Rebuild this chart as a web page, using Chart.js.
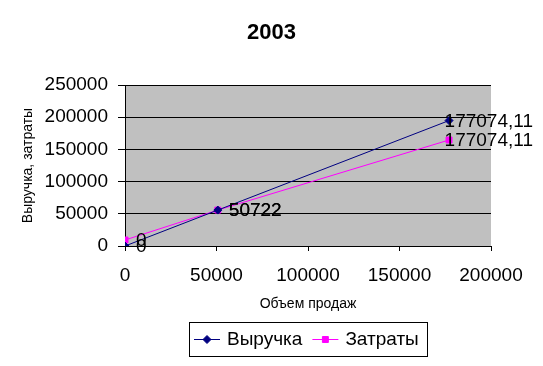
<!DOCTYPE html>
<html>
<head>
<meta charset="utf-8">
<script src="https://cdn.jsdelivr.net/npm/chart.js@4.4.0/dist/chart.umd.min.js"></script>
<style>
  html, body { margin: 0; padding: 0; background: #fff; }
</style>
</head>
<body>
<canvas id="chart" width="543" height="366"></canvas>
<script>
const FONT = "'Liberation Sans', Arial, sans-serif";

// data
const volume = [0, 50722, 177074.11];     // Объем продаж
const revenue = [0, 55800, 194800];       // Выручка
const costs = [9300, 55800, 164600];      // Затраты
const seriesNames = ["Выручка", "Затраты"];
const chartTitle = "2003";
const xTicks = [0, 50000, 100000, 150000, 200000];
const yTicks = [0, 50000, 100000, 150000, 200000, 250000];

function toPoints(ys) {
  return volume.map((x, i) => ({ x: x, y: ys[i] }));
}

function fmtLabel(v) {
  return String(v).replace(".", ",");
}

// gray plot area
const plotBackground = {
  id: "plotBackground",
  beforeDraw(chart) {
    const a = chart.chartArea;
    const ctx = chart.ctx;
    ctx.save();
    ctx.fillStyle = "#C0C0C0";
    ctx.fillRect(a.left, a.top, a.right - a.left, a.bottom - a.top);
    ctx.restore();
  }
};

// title centred on the whole picture, not on the plot
const pageTitle = {
  id: "pageTitle",
  afterDraw(chart) {
    const ctx = chart.ctx;
    ctx.save();
    ctx.font = "bold 22px " + FONT;
    ctx.fillStyle = "#000";
    ctx.textAlign = "center";
    ctx.textBaseline = "middle";
    ctx.fillText(chartTitle, chart.width / 2, 33);
    ctx.restore();
  }
};

// point labels show the x value, like Excel did
const pointLabels = {
  id: "pointLabels",
  afterDatasetsDraw(chart) {
    const ctx = chart.ctx;
    ctx.save();
    ctx.font = "19px " + FONT;
    ctx.fillStyle = "#000";
    ctx.textBaseline = "middle";
    ctx.textAlign = "left";
    chart.data.datasets.forEach((ds, di) => {
      const meta = chart.getDatasetMeta(di);
      meta.data.forEach((el, i) => {
        const text = fmtLabel(volume[i]);
        const w = ctx.measureText(text).width;
        let x = el.x + 11;
        if (x + w > chart.width - 10) x = chart.width - 10 - w;
        ctx.fillText(text, x, el.y + 1);
      });
    });
    ctx.restore();
  }
};

// boxed legend under the chart
const boxLegend = {
  id: "boxLegend",
  afterDraw(chart) {
    const ctx = chart.ctx;
    const a = chart.chartArea;
    const lineLen = 26, gap = 7, itemGap = 10, padL = 5, padR = 8;
    ctx.save();
    ctx.font = "19px " + FONT;
    const items = chart.data.datasets.map(ds => ({ ds: ds, w: ctx.measureText(ds.label).width }));
    let total = padL + padR;
    items.forEach((it, i) => { total += lineLen + gap + it.w + (i > 0 ? itemGap : 0); });
    const boxTop = 322, boxH = 34;
    const boxLeft = Math.round((a.left + a.right) / 2 - total / 2);
    ctx.strokeStyle = "#000";
    ctx.lineWidth = 1;
    ctx.strokeRect(boxLeft + 0.5, boxTop + 0.5, Math.round(total), boxH);
    const cy = boxTop + boxH / 2 + 0.5;
    let x = boxLeft + padL;
    items.forEach((it, i) => {
      if (i > 0) x += itemGap;
      ctx.strokeStyle = it.ds.borderColor;
      ctx.beginPath();
      ctx.moveTo(x, cy);
      ctx.lineTo(x + lineLen, cy);
      ctx.stroke();
      ctx.fillStyle = it.ds.backgroundColor;
      Chart.helpers.drawPoint(ctx, {
        pointStyle: it.ds.pointStyle,
        radius: it.ds.pointRadius,
        rotation: 0,
        borderWidth: 1
      }, x + lineLen / 2, cy);
      x += lineLen + gap;
      ctx.fillStyle = "#000";
      ctx.textBaseline = "middle";
      ctx.fillText(it.ds.label, x, cy);
      x += it.w;
    });
    ctx.restore();
  }
};

const ctx = document.getElementById("chart").getContext("2d");

new Chart(ctx, {
  type: "scatter",
  data: {
    datasets: [{
      label: seriesNames[0],
      data: toPoints(revenue),
      showLine: true,
      borderColor: "#000080",
      backgroundColor: "#000080",
      borderWidth: 1,
      pointStyle: "rectRot",
      pointRadius: 4,
      pointBorderWidth: 1
    }, {
      label: seriesNames[1],
      data: toPoints(costs),
      showLine: true,
      borderColor: "#FF00FF",
      backgroundColor: "#FF00FF",
      borderWidth: 1,
      pointStyle: "rect",
      pointRadius: 4.2,
      pointBorderWidth: 1
    }]
  },
  options: {
    responsive: false,
    animation: false,
    devicePixelRatio: 1,
    layout: { padding: { left: 16, right: 52, top: 85, bottom: 49 } },
    plugins: {
      legend: { display: false },
      tooltip: { enabled: false },
      title: { display: false }
    },
    scales: {
      x: {
        type: "linear",
        min: xTicks[0],
        max: xTicks[xTicks.length - 1],
        afterBuildTicks: s => { s.ticks = xTicks.map(v => ({ value: v })); },
        afterFit: s => { s.height = 71; },
        ticks: {
          color: "#000",
          font: { family: FONT, size: 19 },
          padding: 13,
          maxRotation: 0,
          callback: v => String(v)
        },
        grid: { drawOnChartArea: false, drawTicks: true, tickLength: 5, color: "#000" },
        border: { color: "#000" },
        title: {
          display: true,
          text: "Объем продаж",
          color: "#000",
          font: { family: FONT, size: 14 },
          padding: { top: 4, bottom: 4 }
        }
      },
      y: {
        min: yTicks[0],
        max: yTicks[yTicks.length - 1],
        afterBuildTicks: s => { s.ticks = yTicks.map(v => ({ value: v })); },
        afterFit: s => { s.width = 109; },
        ticks: {
          color: "#000",
          font: { family: FONT, size: 19 },
          padding: 10,
          callback: v => String(v)
        },
        grid: { color: "#000", tickLength: 7 },
        border: { color: "#000" },
        title: {
          display: true,
          text: "Выручка, затраты",
          color: "#000",
          font: { family: FONT, size: 14 },
          padding: { top: 4, bottom: 4 }
        }
      }
    }
  },
  plugins: [plotBackground, pageTitle, pointLabels, boxLegend]
});
</script>
</body>
</html>
